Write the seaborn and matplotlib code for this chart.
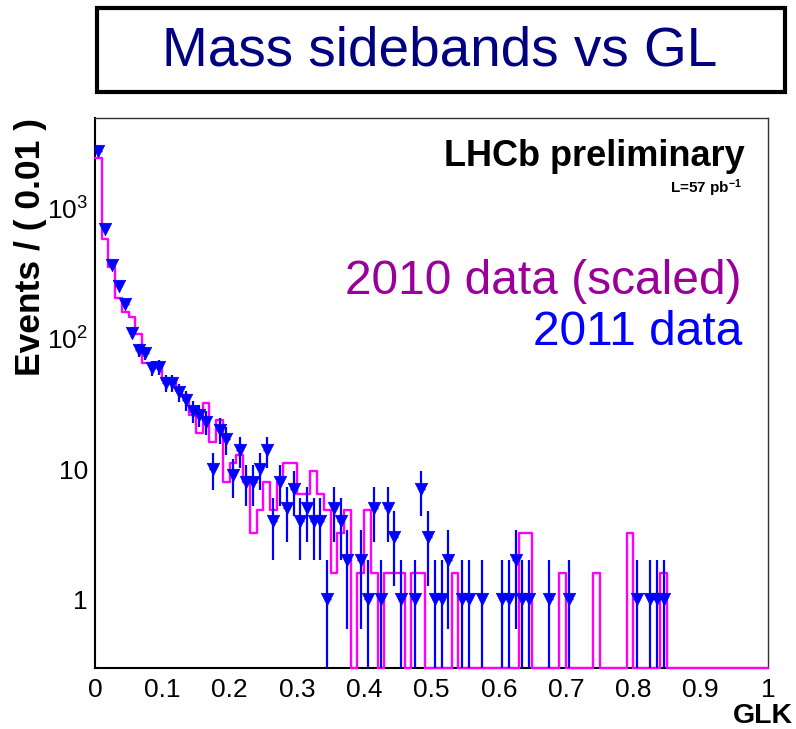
import numpy as np
import pandas as pd
import matplotlib
matplotlib.use("Agg")
import matplotlib.pyplot as plt
import seaborn as sns
from matplotlib.patches import Rectangle
from matplotlib.ticker import FixedLocator, MultipleLocator, NullFormatter, LogLocator

# ---------------- data ----------------
bin_width = 0.01
bin_edges = np.round(np.arange(0, 1.0001, bin_width), 2)

# 2011 data: counts per bin (0.01 wide bins from 0 to 1)
data2011 = [2800, 698, 371, 256, 185, 112, 82, 78, 60, 61,
            46, 46, 39, 34, 28, 26, 23, 10, 20, 17,
            9, 14, 8, 8, 10, 14, 4, 8, 5, 7,
            4, 5, 4, 4, 1, 5, 4, 2, 0, 2,
            1, 5, 1, 5, 3, 1, 0, 1, 7, 3,
            1, 1, 2, 0, 1, 1, 0, 1, 0, 0,
            1, 1, 2, 1, 1, 0, 0, 1, 0, 0,
            1, 0, 0, 0, 0, 0, 0, 0, 0, 0,
            1, 0, 1, 1, 1, 0, 0, 0, 0, 0,
            0, 0, 0, 0, 0, 0, 0, 0, 0, 0]

# 2010 data scaled to 2011 luminosity
data2010_scaled = [2455, 585, 360, 206, 162, 148, 109, 65, 65, 65,
                   48, 48, 40, 37, 26, 19, 32, 16, 24, 8,
                   11.2, 12.8, 8, 3.2, 4.8, 8, 4.8, 8, 11.2, 11.2,
                   6.4, 6.4, 9.6, 6.4, 4.8, 1.6, 3.2, 4.8, 0, 1.6,
                   4.8, 1.6, 0, 1.6, 1.6, 1.6, 0, 1.6, 1.6, 0,
                   0, 0, 0, 1.6, 0, 0, 0, 0, 0, 0,
                   0, 0, 0, 3.2, 3.2, 0, 0, 0, 0, 1.6,
                   0, 0, 0, 0, 1.6, 0, 0, 0, 0, 3.2,
                   0, 0, 0, 0, 1.6, 0, 0, 0, 0, 0,
                   0, 0, 0, 0, 0, 0, 0, 0, 0, 0]

x_ticks = [0, 0.1, 0.2, 0.3, 0.4, 0.5, 0.6, 0.7, 0.8, 0.9, 1]
x_ticklabels = ["0", "0.1", "0.2", "0.3", "0.4", "0.5", "0.6", "0.7", "0.8", "0.9", "1"]
y_ticks = [1, 10, 100, 1000]
y_ticklabels = ["1", "10", r"$10^{2}$", r"$10^{3}$"]

title_text = "Mass sidebands vs GL"
x_label = "GLK"
y_label = "Events / ( 0.01 )"

# ---------------- style ----------------
sns.set_theme(style="white")
plt.rcParams["font.family"] = ["Liberation Sans", "DejaVu Sans"]
plt.rcParams["mathtext.fontset"] = "custom"
plt.rcParams["mathtext.rm"] = "Liberation Sans"
plt.rcParams["mathtext.it"] = "Liberation Sans:italic"
plt.rcParams["mathtext.bf"] = "Liberation Sans:bold"

W, H = 796, 729
fig = plt.figure(figsize=(W / 100, H / 100), dpi=100)
fig.patch.set_facecolor("white")

def fx(px):
    return px / W

def fy(py):
    return 1 - py / H

ax_left, ax_right, ax_top, ax_bottom = 95, 768, 118, 668
ax = fig.add_axes([fx(ax_left), fy(ax_bottom), (ax_right - ax_left) / W, (ax_bottom - ax_top) / H])
ax.set_facecolor("white")

ymin, ymax = 0.295, 5000
ax.set_yscale("log")
ax.set_xlim(0, 1)
ax.set_ylim(ymin, ymax)

centers = (bin_edges[:-1] + bin_edges[1:]) / 2

# ---- 2010 scaled histogram (step outline) ----
h = np.array(data2010_scaled, dtype=float)
h_plot = np.where(h > 0, h, ymin)
df_hist = pd.DataFrame({"x": bin_edges, "y": np.append(h_plot, h_plot[-1])})
sns.lineplot(data=df_hist, x="x", y="y", drawstyle="steps-post", estimator=None,
             color="#ff00ff", lw=1.7, ax=ax, zorder=4, clip_on=False)

# ---- 2011 data points with sqrt(N) errors ----
n = np.array(data2011, dtype=float)
mask = n > 0
df_pts = pd.DataFrame({"x": centers[mask], "y": n[mask]})
err = np.sqrt(df_pts["y"])
lo = np.maximum(df_pts["y"] - err, 1e-3)
hi = df_pts["y"] + err
ax.vlines(df_pts["x"], lo, hi, color="#0000ff", lw=1.6, zorder=5)
ax.hlines(df_pts["y"], df_pts["x"] - bin_width / 2, df_pts["x"] + bin_width / 2,
          color="#0000ff", lw=1.0, zorder=5)
sns.scatterplot(data=df_pts, x="x", y="y", marker="v", s=80, color="#0000ff",
                edgecolor="#0000ff", linewidth=0.5, ax=ax, zorder=6)

# ---- axes styling ----
ax.xaxis.set_major_locator(FixedLocator(x_ticks))
ax.xaxis.set_minor_locator(MultipleLocator(0.02))
ax.set_xticklabels(x_ticklabels)
ax.yaxis.set_major_locator(FixedLocator(y_ticks))
ax.set_yticklabels(y_ticklabels)
ax.yaxis.set_minor_locator(LogLocator(base=10, subs=np.arange(2, 10)))
ax.yaxis.set_minor_formatter(NullFormatter())

ax.tick_params(axis="both", which="both", direction="in", top=False, right=False,
               color="black", labelcolor="black")
ax.tick_params(axis="x", which="major", length=12, width=1.0, labelsize=19, pad=7)
ax.tick_params(axis="x", which="minor", length=6, width=1.0)
ax.tick_params(axis="y", which="major", length=13, width=1.0, labelsize=19, pad=5)
ax.tick_params(axis="y", which="minor", length=6.5, width=1.0)

for side in ["left", "bottom"]:
    ax.spines[side].set_color("black")
    ax.spines[side].set_linewidth(1.5)
for side in ["top", "right"]:
    ax.spines[side].set_color("#333333")
    ax.spines[side].set_linewidth(1.0)
    ax.spines[side].set_visible(True)
ax.set_xlabel("")
ax.set_ylabel("")
ax.grid(False)

# axis titles
fig.text(fx(793), fy(723), x_label, ha="right", va="baseline", fontsize=20.5,
         fontweight="bold", color="black")
fig.text(fx(31), fy(118), y_label, ha="center", va="top", rotation=90,
         fontsize=25.5, fontweight="bold", color="black")

# ---- title box ----
fig.patches.append(Rectangle((fx(97), fy(92)), (785 - 97) / W, (92 - 8) / H,
                             transform=fig.transFigure, facecolor="white",
                             edgecolor="black", lw=3, zorder=1))
fig.text(fx(440), fy(51), title_text, ha="center", va="center", fontsize=39.5,
         color="#000080", zorder=2)

# ---- in-plot texts ----
fig.text(fx(745), fy(166), "LHCb preliminary", ha="right", va="baseline",
         fontsize=26, fontweight="bold", color="black")
fig.text(fx(742), fy(193), r"L=57 pb$^{\mathbf{-1}}$", ha="right", va="baseline",
         fontsize=11, fontweight="bold", color="black")
fig.text(fx(742), fy(294), "2010 data (scaled)", ha="right", va="baseline",
         fontsize=34.5, color="#990099")
fig.text(fx(742), fy(345), "2011 data", ha="right", va="baseline",
         fontsize=34.5, color="#0000ff")

fig.savefig("out.png", dpi=100, facecolor="white")
